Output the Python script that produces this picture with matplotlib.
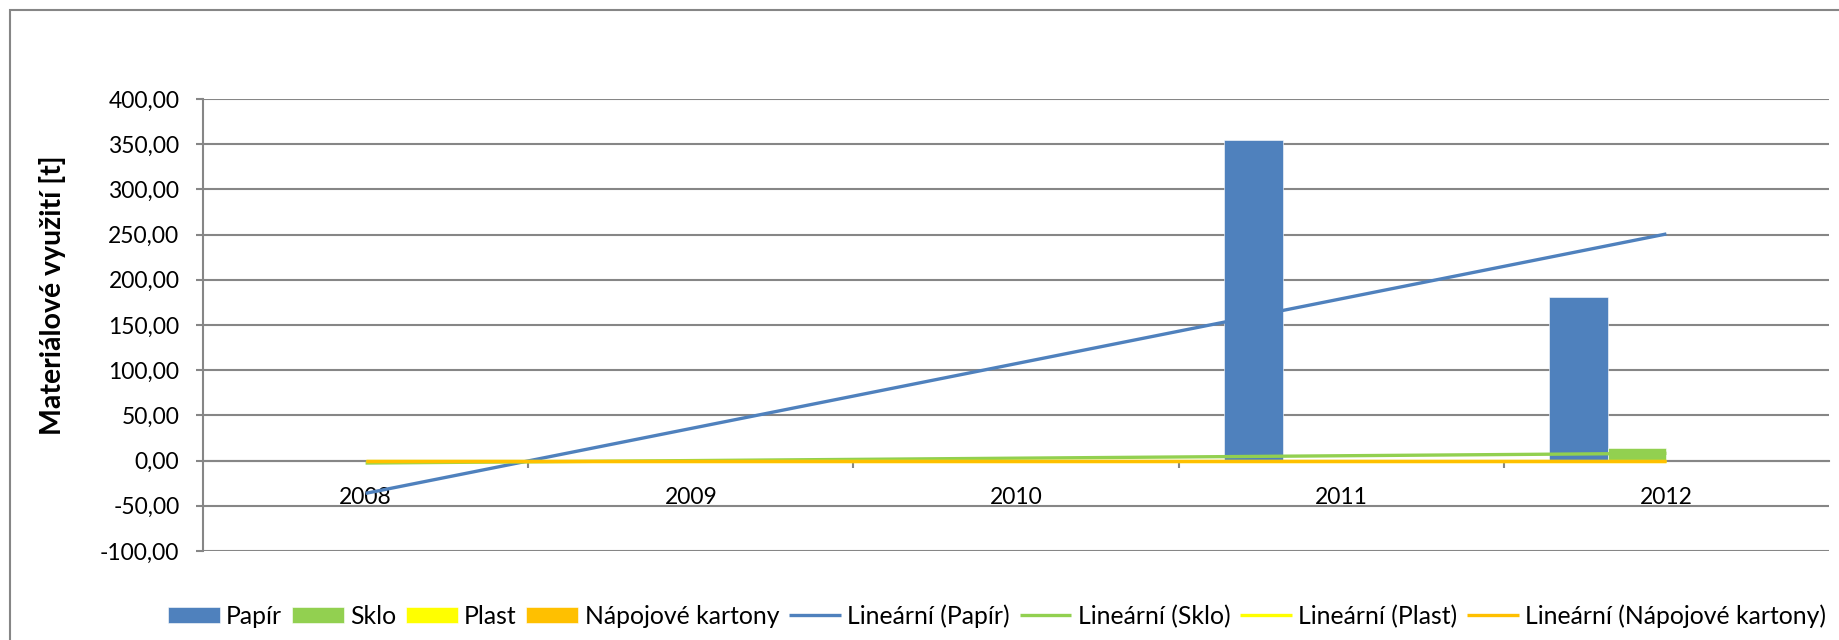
import numpy as np
import matplotlib
matplotlib.use("Agg")
import matplotlib.pyplot as plt
from matplotlib.patches import Rectangle
from matplotlib.ticker import FuncFormatter, FixedLocator

plt.rcParams['font.family'] = ['Lato', 'DejaVu Sans']

# data
years = ['2008', '2009', '2010', '2011', '2012']
papir = [0.0, 0.0, 0.0, 355.0, 181.2]
sklo = [0.0, 0.0, 0.0, 0.0, 13.4]
plast = [0.0, 0.0, 0.0, 0.0, 0.0]
napojove = [0.0, 0.0, 0.0, 0.0, 0.0]

series_names = ['Papír', 'Sklo', 'Plast', 'Nápojové kartony']
series_values = [papir, sklo, plast, napojove]
series_colors = ['#4F81BD', '#92D050', '#FFFF00', '#FFC000']

GRID = '#868686'
FS = 16.5

fig = plt.figure(figsize=(18.39, 6.4), dpi=100)
ax = fig.add_axes([203/1839, 1 - 551/640, (1829 - 203)/1839, (551 - 99)/640])

x = np.arange(len(years))
w = 0.18
bar_handles = []
for i, (name, vals, col) in enumerate(zip(series_names, series_values, series_colors)):
    b = ax.bar(x + (i - 2) * w, vals, width=w, align='edge', color=col,
               edgecolor='white', linewidth=0.4, label=name, zorder=2)
    bar_handles.append(b)

# linear trends (least squares over category index)
line_handles = []
for name, vals, col in zip(series_names, series_values, series_colors):
    k, q = np.polyfit(x, vals, 1)
    ln, = ax.plot(x, k * x + q, color=col, lw=2.4, solid_capstyle='butt',
                  label='Lineární (%s)' % name, zorder=3)
    line_handles.append(ln)

ax.set_xlim(-0.5, len(years) - 0.5)
ax.set_ylim(-100, 400)
ax.set_yticks(np.arange(-100, 401, 50))
ax.yaxis.set_major_formatter(FuncFormatter(lambda v, p: ('%.2f' % v).replace('.', ',')))
ax.grid(axis='y', color=GRID, lw=1.5, zorder=0)
ax.set_axisbelow(True)

ax.set_xticks(x)
ax.set_xticklabels(years)
ax.xaxis.set_minor_locator(FixedLocator(x[:-1] + 0.5))
ax.tick_params(axis='x', which='major', length=0, pad=19, labelsize=FS)
ax.tick_params(axis='x', which='minor', length=5, width=1.5, color=GRID, direction='out')
ax.tick_params(axis='y', length=5, width=1.5, color=GRID, pad=12, labelsize=FS)

for s in ['top', 'right']:
    ax.spines[s].set_visible(False)
ax.spines['bottom'].set_position(('data', 0))
ax.spines['bottom'].set_color(GRID)
ax.spines['bottom'].set_linewidth(1.5)
ax.spines['left'].set_color(GRID)
ax.spines['left'].set_linewidth(1.5)

fig.text(52/1839, 1 - 295/640, 'Materiálové využití [t]', rotation=90,
         ha='center', va='center', fontsize=20.5, fontweight='bold')

# chart frame
fig.patches.append(Rectangle((10/1839, -0.2), 2.0, 1.2 - 10/640, transform=fig.transFigure,
                             fill=False, edgecolor=GRID, lw=1.5, figure=fig))

h = bar_handles + line_handles
l = series_names + ['Lineární (%s)' % n for n in series_names]
fig.legend(h, l, loc='center', bbox_to_anchor=(997/1839, 1 - 616/640), ncol=8,
           frameon=False, fontsize=17.8, handlelength=2.1, handleheight=0.65,
           handletextpad=0.25, columnspacing=0.4, borderaxespad=0)

fig.savefig('out.png', dpi=100)
